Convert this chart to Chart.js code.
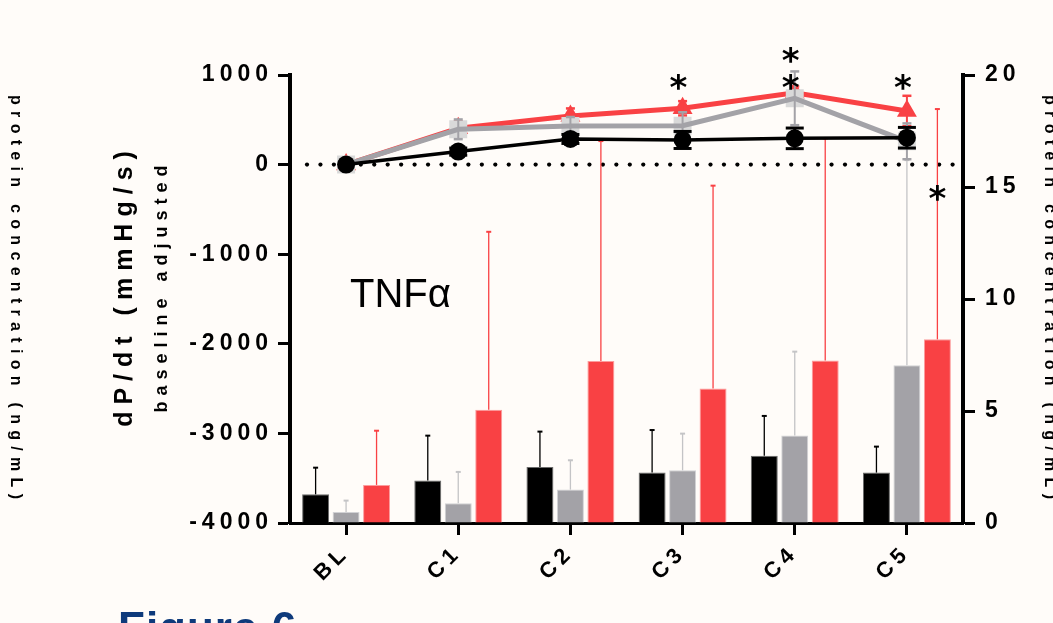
<!DOCTYPE html>
<html><head><meta charset="utf-8">
<script src="https://cdn.jsdelivr.net/npm/chart.js@4.4.1/dist/chart.umd.min.js"></script>
<style>html,body{margin:0;padding:0;background:#fffcf9;overflow:hidden}canvas{display:block}</style>
</head><body>
<canvas id="c" width="1053" height="623"></canvas>
<script>
// ---- data ----
const categories = ['BL','C1','C2','C3','C4','C5'];
const leftTickValues = [-4000,-3000,-2000,-1000,0,1000];
const rightTickValues = [0,5,10,15,20];

// dP/dt (left axis, mmHg/s, baseline adjusted)
const blackLine = [0, 145, 286, 275, 293, 300];
const blackLineErr = [0, 40, 50, 95, 115, 115];
const greyLine = [0, 394, 431, 434, 740, 260];
const greyLineErr = [0, 110, 100, 150, 300, 200];
const redLine = [0, 405, 542, 628, 802, 598];
const redLineErr = [0, 80, 85, 80, 70, 170];

// protein concentration (right axis, ng/mL)
const blackBar = [1.28, 1.90, 2.50, 2.26, 3.00, 2.25];
const blackBarErr = [1.19, 2.00, 1.58, 1.89, 1.78, 1.16];
const greyBar = [0.49, 0.88, 1.49, 2.35, 3.91, 7.04];
const greyBarErr = [0.51, 1.40, 1.31, 1.64, 3.74, 9.16];
const redBar = [1.70, 5.06, 7.23, 6.00, 7.26, 8.20];
const redBarErr = [2.42, 7.94, 9.82, 9.06, 9.91, 10.28];

// significance marks: category + left-axis value (or right-axis value on red bar)
const starMarks = [
  {cat:'C3', value:922}, {cat:'C4', value:1223}, {cat:'C4', value:922}, {cat:'C5', value:922}
];
const barStarMarks = [{cat:'C5', value:14.75}];

// ---- styling ----
const FONT = '"Liberation Sans", Arial, sans-serif';
const RED = '#f94144', GREY = '#a3a2a7', LGREY = '#d9d9d9';

const overlay = {
  id: 'overlay',
  beforeLayout(chart){ chart.ctx.letterSpacing = '5px'; },
  beforeDraw(chart){ chart.ctx.letterSpacing = '5px'; },
  beforeDatasetsDraw(chart){
    const ctx = chart.ctx, a = chart.chartArea, y = chart.scales.y.getPixelForValue(0);
    ctx.save(); ctx.fillStyle = '#000';
    for (let x = a.left + 17; x <= a.right - 8; x += 13.45){
      ctx.beginPath(); ctx.arc(x, y, 2.1, 0, Math.PI*2); ctx.fill();
    }
    ctx.restore();
  },
  afterDatasetDraw(chart, args){
    const ds = chart.data.datasets[args.index];
    if (!ds.errors) return;
    const meta = chart.getDatasetMeta(args.index);
    const sc = chart.scales[ds.yAxisID];
    const ctx = chart.ctx;
    ctx.save(); ctx.strokeStyle = ds.errColor; ctx.lineCap = 'butt';
    meta.data.forEach((el, i) => {
      const e = ds.errors[i]; if (!e) return;
      const v = ds.data[i];
      const x = el.x;
      const yTop = sc.getPixelForValue(v + e);
      const yBot = ds.type === 'bar' ? sc.getPixelForValue(v) : sc.getPixelForValue(v - e);
      ctx.lineWidth = ds.errWidth;
      ctx.beginPath(); ctx.moveTo(x, yBot); ctx.lineTo(x, yTop); ctx.stroke();
      ctx.lineWidth = ds.capWidth;
      const hw = ds.capLen/2;
      ctx.beginPath(); ctx.moveTo(x-hw, yTop); ctx.lineTo(x+hw, yTop); ctx.stroke();
      if (ds.type !== 'bar'){ ctx.beginPath(); ctx.moveTo(x-hw, yBot); ctx.lineTo(x+hw, yBot); ctx.stroke(); }
    });
    ctx.restore();
  },
  afterDraw(chart){
    const ctx = chart.ctx;
    function txt(s, x, y, o){
      ctx.save(); ctx.translate(x, y); ctx.rotate(o.rot || 0);
      ctx.font = o.font; ctx.fillStyle = o.color || '#000';
      ctx.textAlign = o.align || 'center'; ctx.textBaseline = o.base || 'middle';
      ctx.letterSpacing = (o.ls || 0) + 'px';
      ctx.fillText(s, (o.align||'center')==='center' ? (o.ls||0)/2 : 0, 0);
      ctx.restore();
    }
    txt('dP/dt (mmHg/s)', 125, 289, {rot:-Math.PI/2, font:'bold 25px '+FONT, ls:7});
    txt('baseline adjusted', 162, 289, {rot:-Math.PI/2, font:'bold 18px '+FONT, ls:6});
    txt('protein concentration (ng/mL)', 15, 297, {rot:Math.PI/2, font:'bold 16px '+FONT, ls:6.3});
    txt('protein concentration (ng/mL)', 1049, 297, {rot:Math.PI/2, font:'bold 16px '+FONT, ls:6.3});
    txt('TNFα', 350, 307, {font:'40px '+FONT, align:'left', base:'alphabetic'});
    txt('Figure 6', 118, 643, {font:'bold 44px '+FONT, align:'left', base:'alphabetic', color:'#0e3a7b', ls:1});

    // asterisks
    const x = chart.scales.x, y = chart.scales.y, y2 = chart.scales.y2;
    ctx.save();
    ctx.letterSpacing = '0px';
    const SF = '"DejaVu Sans", sans-serif';
    ctx.font = 'bold 100px ' + SF;
    let m = ctx.measureText('*');
    const h100 = m.actualBoundingBoxAscent + m.actualBoundingBoxDescent;
    const fs = 100 * 16 / h100;
    ctx.font = 'bold ' + fs + 'px ' + SF;
    m = ctx.measureText('*');
    const off = (m.actualBoundingBoxAscent - m.actualBoundingBoxDescent)/2;
    const cx = (m.actualBoundingBoxRight - m.actualBoundingBoxLeft)/2 + m.actualBoundingBoxLeft;
    ctx.fillStyle = '#000'; ctx.textAlign = 'left'; ctx.textBaseline = 'alphabetic';
    starMarks.forEach(s => {
      const px = x.getPixelForValue(categories.indexOf(s.cat)) - 4;
      const py = y.getPixelForValue(s.value);
      ctx.fillText('*', px - cx, py + off);
    });
    const redMeta = chart.getDatasetMeta(chart.data.datasets.findIndex(d => d.label === 'red bars'));
    barStarMarks.forEach(s => {
      const px = redMeta.data[categories.indexOf(s.cat)].x;
      const py = y2.getPixelForValue(s.value);
      ctx.fillText('*', px - cx, py + off);
    });
    ctx.restore();
  }
};

const tickFont = {family: FONT, size: 23, weight: 'bold'};
const barCommon = {type:'bar', yAxisID:'y2', categoryPercentage:0.815, barPercentage:0.885, borderWidth:1, borderSkipped:'start', errWidth:1.3, capWidth:2, capLen:5};

new Chart(document.getElementById('c'), {
  type: 'bar',
  data: {
    labels: categories,
    datasets: [
      Object.assign({}, barCommon, {label:'black bars', data:blackBar, backgroundColor:'#000', borderColor:'#6a6a6a', order:3, errors:blackBarErr, errColor:'#000'}),
      Object.assign({}, barCommon, {label:'grey bars', data:greyBar, backgroundColor:GREY, borderColor:'#d2d2d5', order:4, errors:greyBarErr, errColor:'#c4c4c6'}),
      Object.assign({}, barCommon, {label:'red bars', data:redBar, backgroundColor:RED, borderColor:'#fc9c9d', order:5, errors:redBarErr, errColor:RED}),
      {type:'line', label:'red line', data:redLine, yAxisID:'y', borderColor:RED, borderWidth:5, tension:0,
        pointStyle:'triangle', pointRadius:11.5, pointBackgroundColor:RED, pointBorderWidth:0, order:2,
        errors:redLineErr, errColor:RED, errWidth:2, capWidth:2.5, capLen:9},
      {type:'line', label:'grey squares', data:greyLine, yAxisID:'y', showLine:false,
        pointStyle:'rect', pointRadius:12.7, pointBackgroundColor:LGREY, pointBorderWidth:0, order:1.6},
      {type:'line', label:'grey line', data:greyLine, yAxisID:'y', borderColor:GREY, borderWidth:5, tension:0,
        pointRadius:0, order:1, errors:greyLineErr, errColor:GREY, errWidth:2, capWidth:2.5, capLen:9},
      {type:'line', label:'black line', data:blackLine, yAxisID:'y', borderColor:'#000', borderWidth:3.5, tension:0,
        pointStyle:'circle', pointRadius:9, pointBackgroundColor:'#000', pointBorderWidth:0, order:0,
        errors:blackLineErr, errColor:'#000', errWidth:3, capWidth:3, capLen:18}
    ]
  },
  options: {
    responsive: false, animation: false, devicePixelRatio: 1,
    layout: {padding: {top: 75, left: 0, right: 0, bottom: 0}},
    plugins: {legend: {display: false}, tooltip: {enabled: false}},
    scales: {
      x: {
        offset: true,
        grid: {offset: false, drawOnChartArea: false, drawTicks: true, tickLength: 12, tickWidth: 3, tickColor: '#000'},
        border: {display: true, color: '#000', width: 3},
        ticks: {autoSkip: false, minRotation: 45, maxRotation: 45, color: '#000', padding: 5,
                font: {family: FONT, size: 22, weight: 'bold'}},
        afterFit: s => { s.height = 100; }
      },
      y: {
        position: 'left', min: -4000, max: 1000,
        afterBuildTicks: s => { s.ticks = leftTickValues.map(v => ({value: v})); },
        grid: {drawOnChartArea: false, drawTicks: true, tickLength: 12, tickWidth: 3, tickColor: '#000'},
        border: {display: true, color: '#000', width: 4},
        ticks: {color: '#000', padding: 5, font: tickFont, callback: v => String(v)},
        afterFit: s => { s.width = 290; }
      },
      y2: {
        position: 'right', min: 0, max: 20,
        afterBuildTicks: s => { s.ticks = rightTickValues.map(v => ({value: v})); },
        grid: {drawOnChartArea: false, drawTicks: true, tickLength: 12, tickWidth: 3, tickColor: '#000'},
        border: {display: true, color: '#000', width: 4},
        ticks: {color: '#000', padding: 10, font: tickFont, callback: v => String(v)},
        afterFit: s => { s.width = 90; }
      }
    }
  },
  plugins: [overlay]
});
</script>
</body></html>
